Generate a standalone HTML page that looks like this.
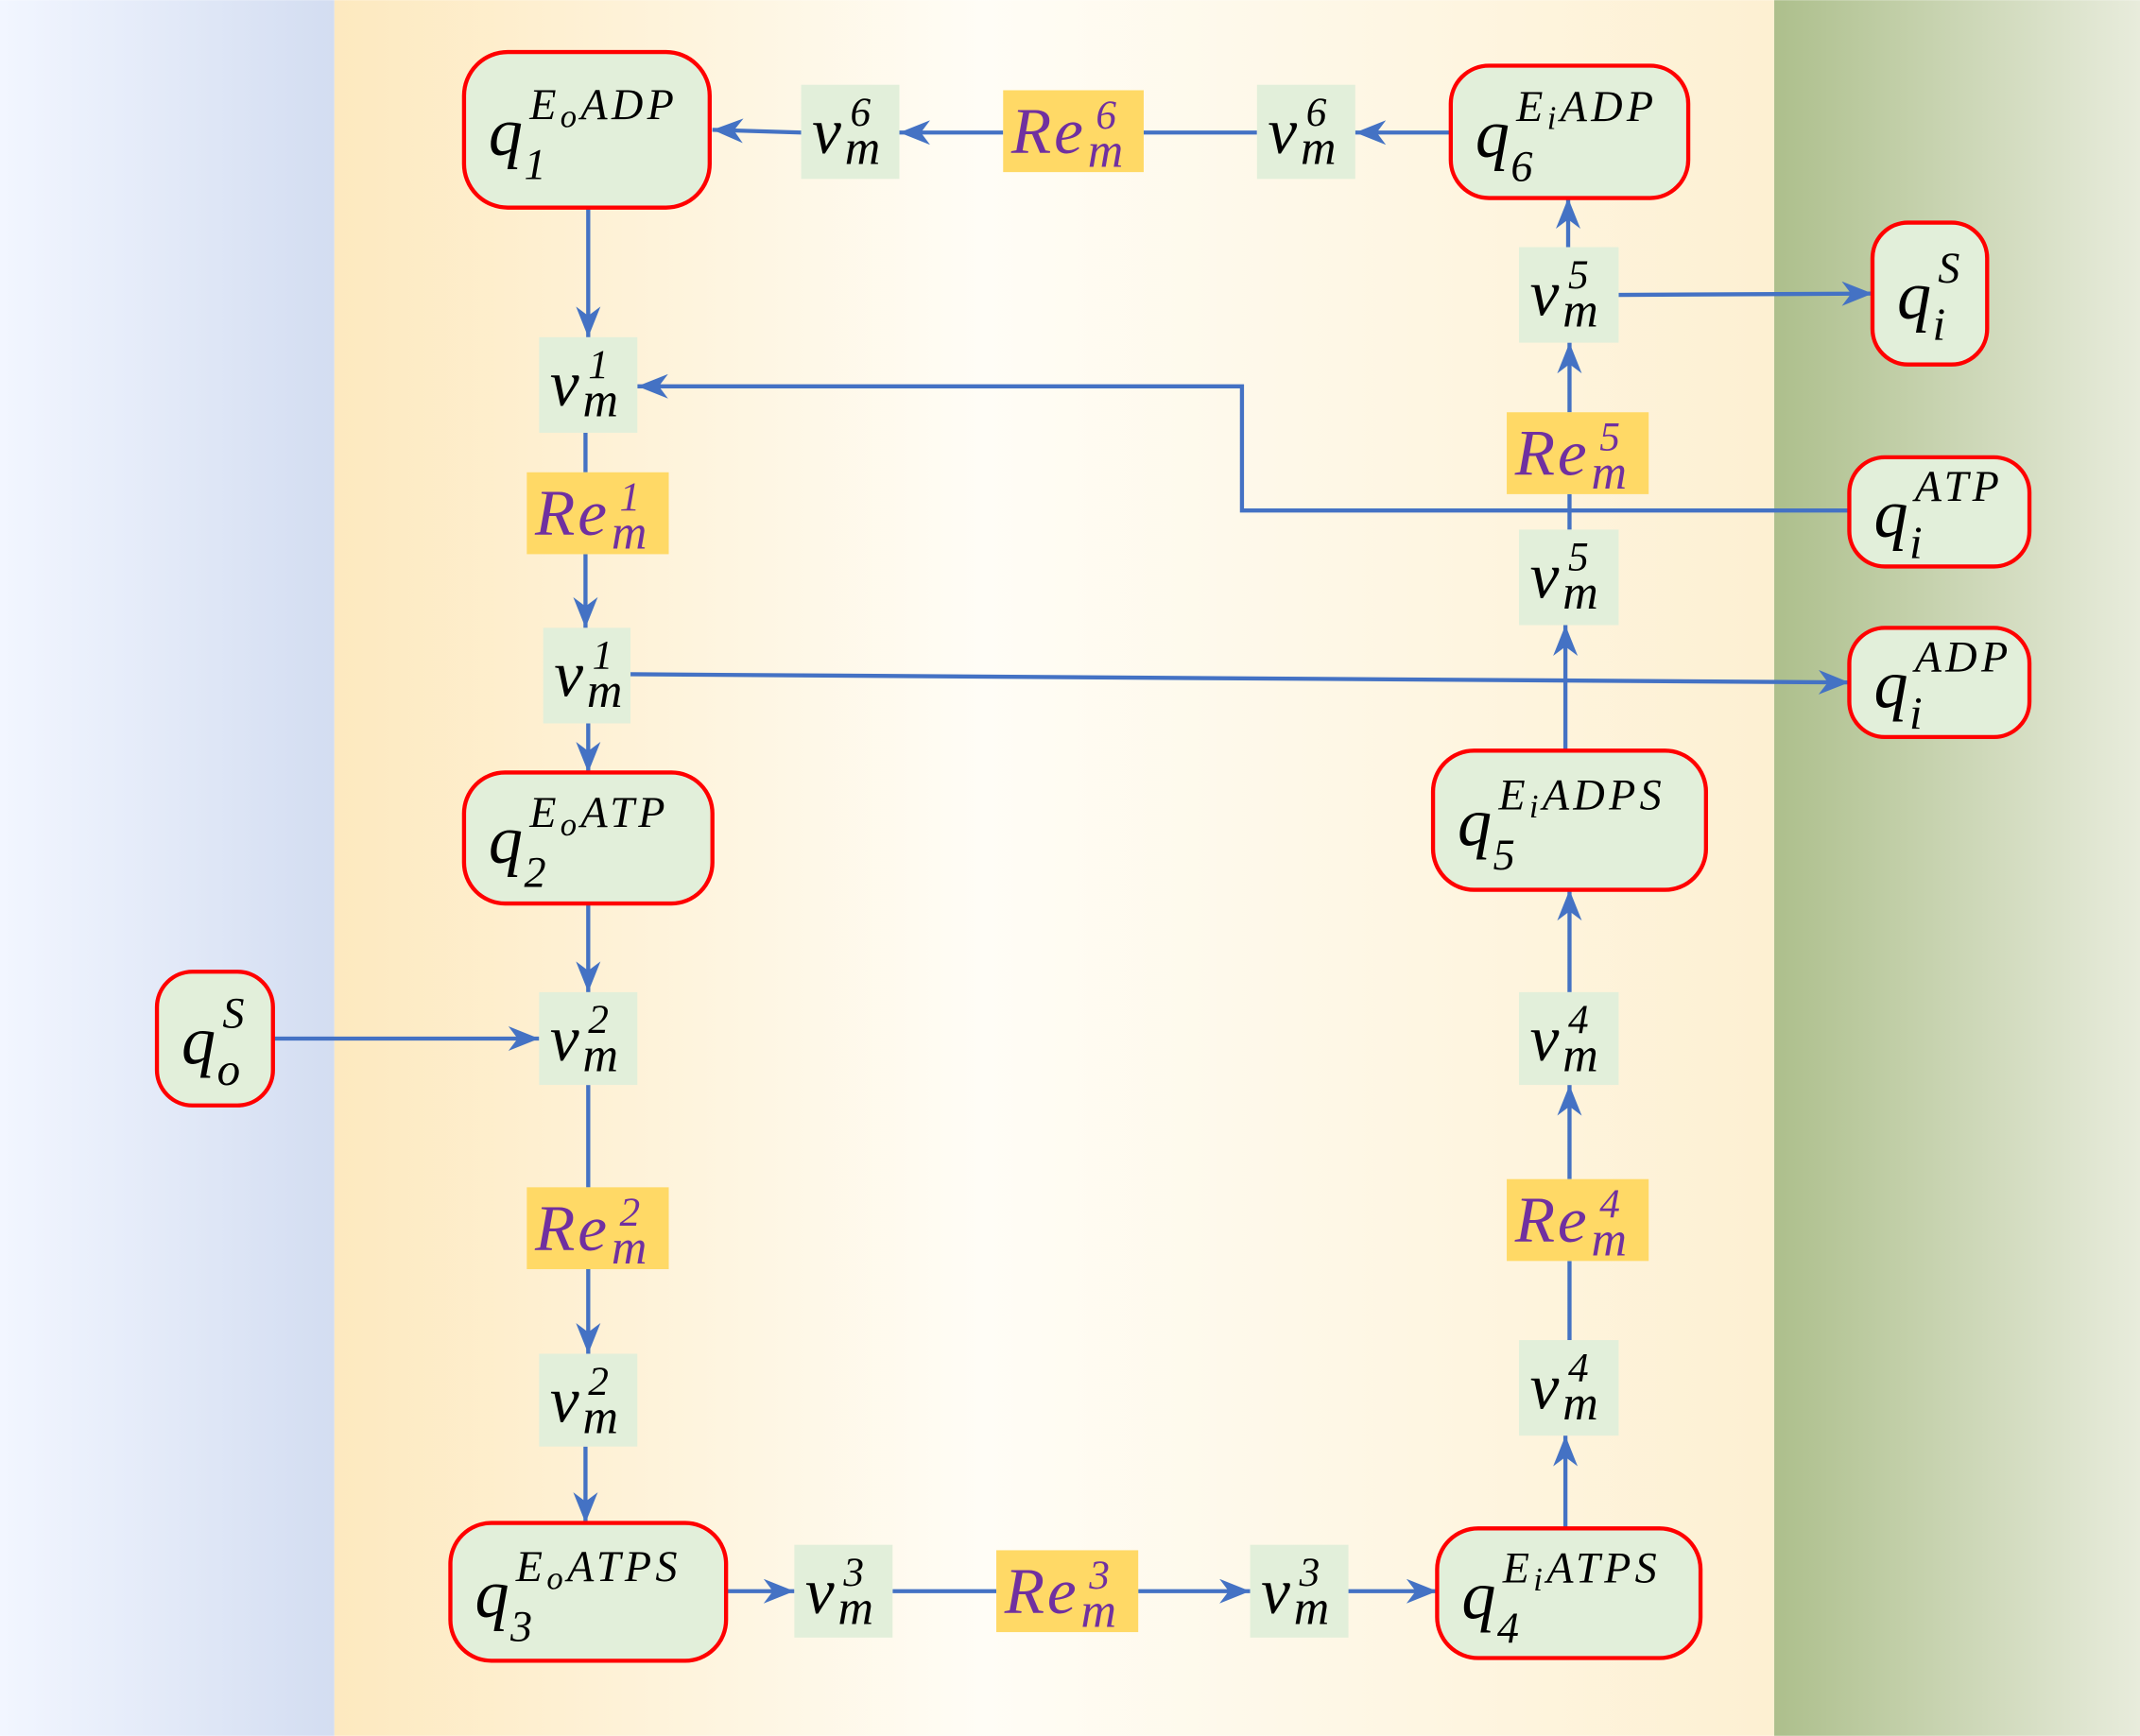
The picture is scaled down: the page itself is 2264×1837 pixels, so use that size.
<!DOCTYPE html>
<html><head><meta charset="utf-8"><style>
html,body{margin:0;padding:0;width:2264px;height:1837px;overflow:hidden}
svg{display:block}
text{font-family:"Liberation Serif","DejaVu Serif",serif;font-style:italic}
</style></head><body>
<svg id="s" xmlns="http://www.w3.org/2000/svg" width="2264" height="1837" viewBox="0 0 1568 1272">
<defs>
<linearGradient id="gl" x1="0" x2="1"><stop offset="0" stop-color="#f2f6ff"/><stop offset="1" stop-color="#d3ddf1"/></linearGradient>
<linearGradient id="gm" x1="0" x2="1"><stop offset="0" stop-color="#fde9bf"/><stop offset="0.45" stop-color="#fffdf6"/><stop offset="1" stop-color="#fdf0d2"/></linearGradient>
<linearGradient id="gr" x1="0" x2="1"><stop offset="0" stop-color="#adbf8c"/><stop offset="1" stop-color="#e8ecdc"/></linearGradient>
<marker id="a" markerWidth="26" markerHeight="18" refX="10" refY="4" orient="auto" markerUnits="userSpaceOnUse" viewBox="0 0 10 8"><path d="M0,0 L10,4 L0,8 L3,4 Z" fill="#4472c4"/></marker>
</defs>
<rect x="0" y="0" width="245" height="1272" fill="url(#gl)"/>
<rect x="245" y="0" width="1055" height="1272" fill="url(#gm)"/>
<rect x="1300" y="0" width="268" height="1272" fill="url(#gr)"/>
<g id="lines" stroke="#4472c4" stroke-width="3" fill="none"></g>
<g id="nodes"></g>
</svg>
<script>
var NS="http://www.w3.org/2000/svg";
function el(p,t,a,txt){var e=document.createElementNS(NS,t);for(var k in a)e.setAttribute(k,a[k]);if(txt!=null)e.textContent=txt;p.appendChild(e);return e;}
var L=document.getElementById("lines"),N=document.getElementById("nodes");
function ln(pts,arrow){var a={points:pts};if(arrow)a["marker-end"]="url(#a)";el(L,"polyline",a);}
[
["1063,97 993,97",1],["921,97 838,97",0],["735,97 659,97",1],["587,97 522,95",1],
["431,152 431,247",1],["429,317 429,346",0],["429,406 429,460",1],["431,530 431,566",1],
["431,662 431,727",1],["200,761 395,761",1],["431,795 431,870",0],["431,930 431,992",1],["429,1060 429,1116",1],
["532,1166 582,1166",1],["654,1166 730,1166",0],["834,1166 916,1166",1],["988,1166 1053,1166",1],
["1147,1120 1147,1052",1],["1150,982 1150,924",0],["1150,864 1150,795",1],["1150,727 1150,652",1],
["1147,550 1147,458",1],["1150,388 1150,362",0],["1150,302 1150,251",1],["1149,181 1149,145",1],
["1186,216 1372,215",1],["1355,374 910,374 910,283 467,283",1],["461,494 1355,500",1]
].forEach(function(l){ln(l[0],l[1]);});
function q(x1,y1,x2,y2,r,sub,sup){
 el(N,"rect",{x:x1,y:y1,width:x2-x1,height:y2-y1,rx:r,ry:r,fill:"#e2efda",stroke:"#ff0000","stroke-width":3});
 var cy=(y1+y2)/2, tx=x1+18;
 el(N,"text",{x:tx,y:cy+18,"font-size":50,fill:"#000"},"q");
 el(N,"text",{x:tx+26,y:cy+36,"font-size":32,fill:"#000","font-style":"normal"},sub);
 var t=el(N,"text",{x:tx+30,y:cy-8,"font-size":32,fill:"#000","letter-spacing":3});
 sup.forEach(function(p){el(t,"tspan",p.s?{"font-size":24,dy:6}:{dy:p.up?-6:0},p.t);});
}
function v(x1,y1,x2,y2,d){
 el(N,"rect",{x:x1,y:y1,width:x2-x1,height:y2-y1,fill:"#e2efda"});
 el(N,"text",{x:x1+8,y:y1+50,"font-size":48,fill:"#000"},"v");
 el(N,"text",{x:x1+36,y:y1+30,"font-size":30,fill:"#000","font-style":"normal"},d);
 el(N,"text",{x:x1+32,y:y1+58,"font-size":36,fill:"#000"},"m");
}
function re(x1,y1,x2,y2,d){
 el(N,"rect",{x:x1,y:y1,width:x2-x1,height:y2-y1,fill:"#ffd966"});
 el(N,"text",{x:x1+6,y:y1+46,"font-size":48,fill:"#7030a0","letter-spacing":2},"Re");
 el(N,"text",{x:x1+68,y:y1+28,"font-size":30,fill:"#7030a0","font-style":"normal"},d);
 el(N,"text",{x:x1+62,y:y1+56,"font-size":36,fill:"#7030a0"},"m");
}
function E(s,rest){return [{t:"E"},{t:s,s:1},{t:rest,up:1}];}
q(340,38,520,152,32,"1",E("o","ADP"));
q(1063,48,1237,145,28,"6",E("i","ADP"));
q(1372,163,1456,267,26,"",[{t:"S"}]);
q(1355,335,1487,415,26,"",[{t:"ATP"}]);
q(1355,460,1487,540,26,"",[{t:"ADP"}]);
q(1050,550,1250,652,30,"5",E("i","ADPS"));
q(340,566,522,662,30,"2",E("o","ATP"));
q(115,712,200,810,26,"",[{t:"S"}]);
q(330,1116,532,1217,30,"3",E("o","ATPS"));
q(1053,1120,1246,1215,30,"4",E("i","ATPS"));
[[1372,163,1456,267,"i"],[1355,335,1487,415,"i"],[1355,460,1487,540,"i"],[115,712,200,810,"o"]].forEach(function(a){
 el(N,"text",{x:a[0]+44,y:(a[1]+a[3])/2+34,"font-size":34,fill:"#000"},a[4]);});
v(587,62,659,131,"6");v(921,62,993,131,"6");re(735,66,838,126,"6");
v(395,247,467,317,"1");re(386,346,490,406,"1");v(398,460,462,530,"1");
v(395,727,467,795,"2");re(386,870,490,930,"2");v(395,992,467,1060,"2");
v(582,1132,654,1200,"3");re(730,1136,834,1196,"3");v(916,1132,988,1200,"3");
v(1113,982,1186,1052,"4");re(1104,864,1208,924,"4");v(1113,727,1186,795,"4");
v(1113,388,1186,458,"5");re(1104,302,1208,362,"5");v(1113,181,1186,251,"5");
</script>
</body></html>
